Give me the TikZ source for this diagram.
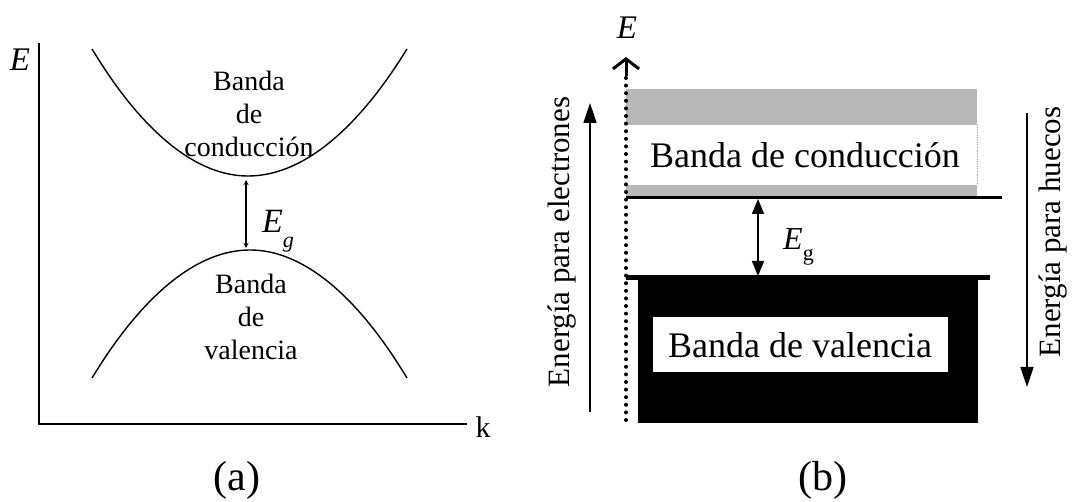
\documentclass[tikz,border=0pt]{standalone}
\usepackage{fontspec}
\setmainfont{Liberation Serif}
\usetikzlibrary{arrows.meta}

\begin{document}
\begin{tikzpicture}[x=1pt, y=-1pt, >=stealth,
  bandtext/.style={font=\fontsize{28}{33}\selectfont, align=center},
  boxtext/.style={font=\fontsize{36}{40}\selectfont},
  sidetext/.style={font=\fontsize{31}{36}\selectfont, rotate=90},
  axislabel/.style={font=\fontsize{33}{36}\selectfont\itshape},
  panellabel/.style={font=\fontsize{42}{46}\selectfont},
  sidearrow/.style={line width=1.6pt, -{Triangle[length=20pt,width=13pt]}}]
  \useasboundingbox (0,0) rectangle (1072,502);

  % (a) E versus k
  \coordinate (Ea) at (39,43);
  \coordinate (Oa) at (39,424);
  \coordinate (Ka) at (467,424);
  \draw[line width=2pt] (Ea) -- (Oa) -- (Ka);
  \node[axislabel] (EaLabel) at (20,60) {E};
  \node[font=\fontsize{30}{34}\selectfont] (kLabel) at (483,427) {k};

  % Bands as parabolas
  \coordinate (cMin) at (248,176);
  \coordinate (vMax) at (250,250);
  \draw[line width=1.4pt] (92,49) parabola bend (cMin) (407,49);
  \draw[line width=1.4pt] (92,378) parabola bend (vMax) (407,378);
  \node[bandtext] (cbA) at (249,114) {Banda\\de\\conducción};
  \node[bandtext] (vbA) at (251,317) {Banda\\de\\valencia};

  % Gap
  \coordinate (gapTopA) at (246,180);
  \coordinate (gapBotA) at (246,248);
  \draw[<->, line width=1.3pt] (gapTopA) -- (gapBotA);
  \node[anchor=base west, inner sep=0pt, font=\fontsize{34}{36}\selectfont] (EgA) at (262,233)
    {\textit{E}\raisebox{-15pt}{\fontsize{22}{24}\selectfont\textit{g}}};

  \node[panellabel] (labA) at (237,480) {(a)};

  % (b) band diagram
  % Conduction band
  \fill[black!28] (626,89) rectangle (977,125);
  \fill[black!28] (626,185) rectangle (977,197);
  \draw[black!40, dotted] (977,125) -- (977,185);
  \node[boxtext] (cbB) at (805,155) {Banda de conducción};
  \coordinate (cbL) at (626,198);
  \coordinate (cbR) at (1002,198);
  \draw[line width=3pt] (cbL) -- (cbR);

  % Valence band
  \fill (638,278) rectangle (978,423);
  \coordinate (vbL) at (626,278);
  \coordinate (vbR) at (990,278);
  \draw[line width=5pt] (vbL) -- (vbR);
  \node[boxtext, fill=white, minimum width=295pt, minimum height=55pt] (vbB) at (800,345) {Banda de valencia};

  % Energy axis
  \coordinate (axB0) at (626,420);
  \coordinate (axB1) at (626,76);
  \coordinate (axB2) at (626,57);
  \draw[line width=4pt, dash pattern=on 0pt off 7.6pt, line cap=round] (axB0) -- (axB1);
  \draw[line width=3pt, -{Straight Barb[length=10pt,width=26pt]}] (axB1) -- (axB2);
  \node[axislabel] (EbLabel) at (627,28) {E};

  % Gap
  \coordinate (gapTopB) at (758,199);
  \coordinate (gapBotB) at (758,276);
  \draw[{Triangle[length=15pt,width=12pt]}-{Triangle[length=15pt,width=12pt]}, line width=1.5pt] (gapTopB) -- (gapBotB);
  \node[anchor=base west, inner sep=0pt, font=\fontsize{32}{34}\selectfont] (EgB) at (783,250)
    {\textit{E}\raisebox{-11pt}{\fontsize{22}{24}\selectfont g}};

  % Side arrows
  \coordinate (elBot) at (590,412);
  \coordinate (elTop) at (590,103);
  \draw[sidearrow] (elBot) -- (elTop);
  \node[sidetext] (elText) at (562,242) {Energía para electrones};
  \coordinate (hoTop) at (1027,113);
  \coordinate (hoBot) at (1027,387);
  \draw[sidearrow] (hoTop) -- (hoBot);
  \node[sidetext] (hoText) at (1053,232) {Energía para huecos};

  \node[panellabel] (labB) at (823,480) {(b)};
\end{tikzpicture}
\end{document}
